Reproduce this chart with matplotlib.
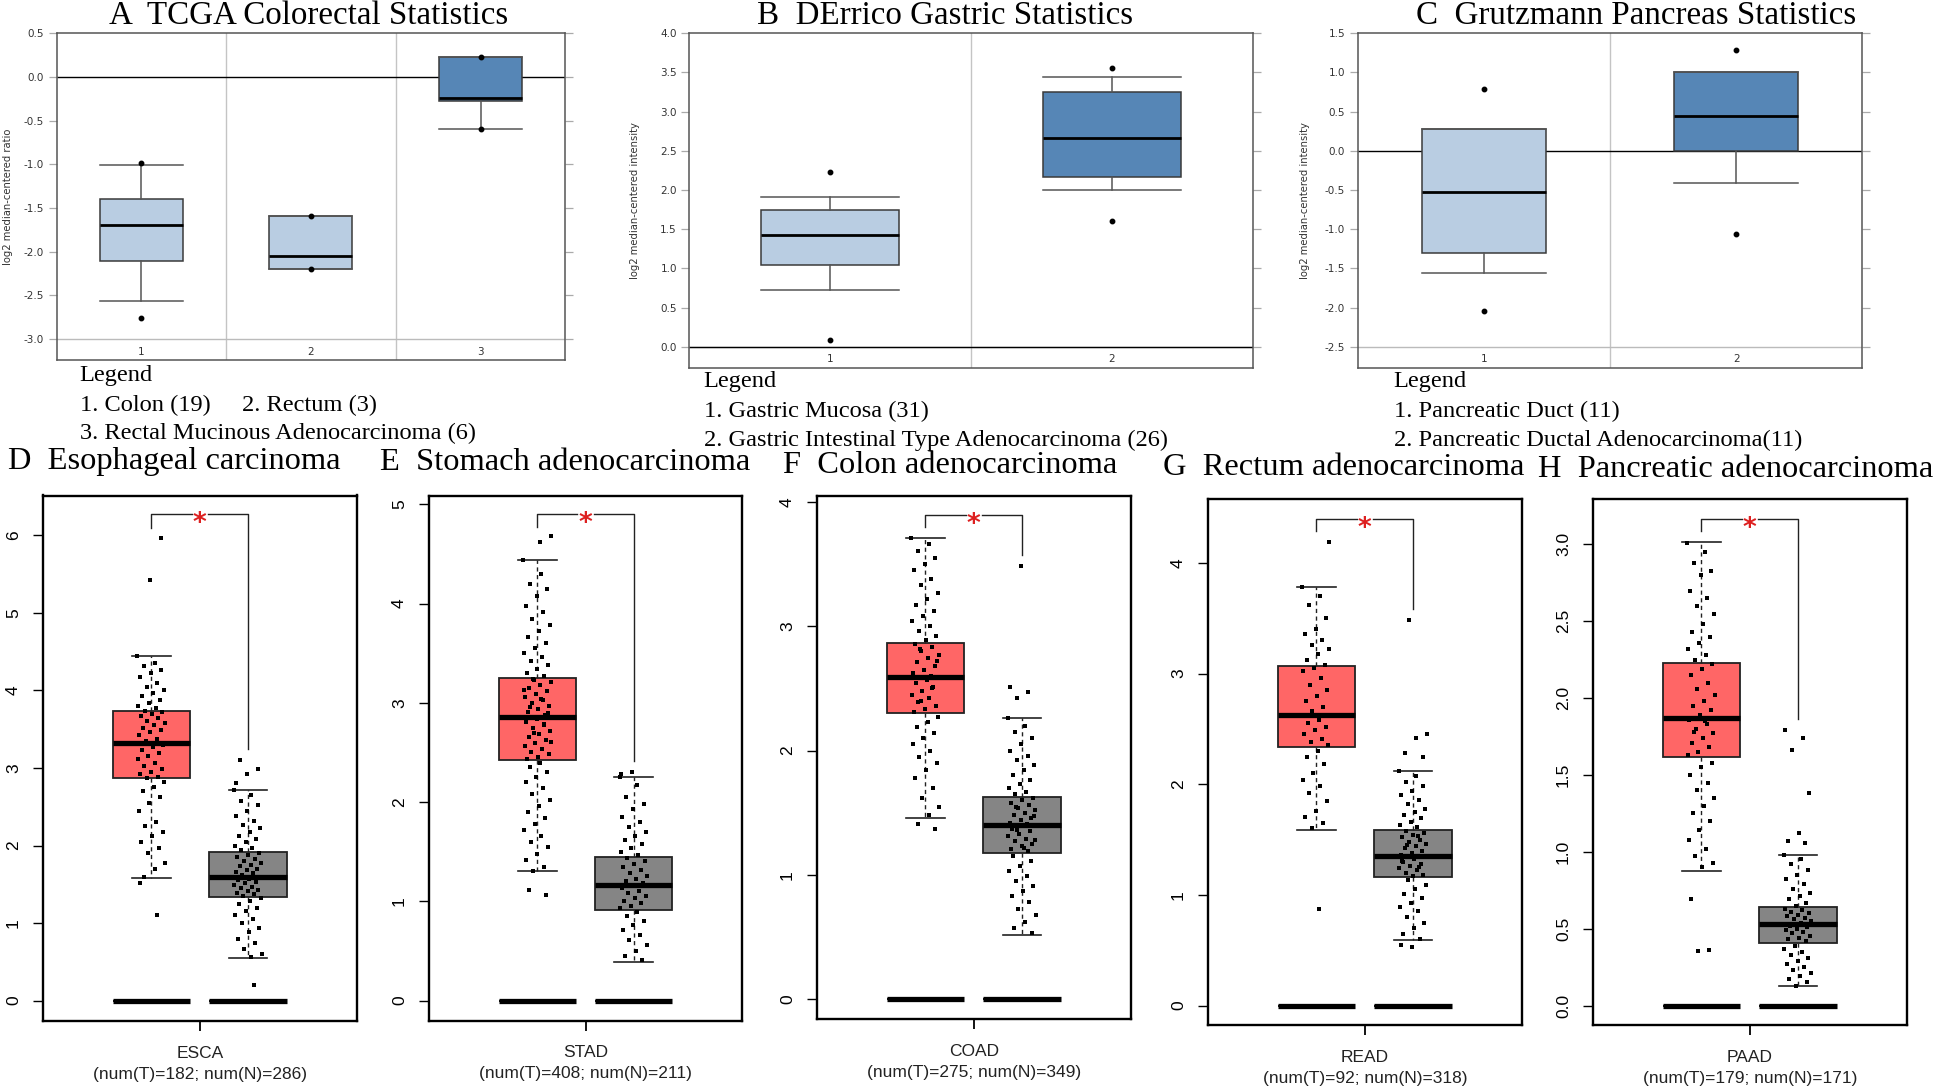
import matplotlib
matplotlib.use("Agg")
import matplotlib.pyplot as plt
import numpy as np

W, H = 1945, 1091
SERIF = ["Liberation Serif", "DejaVu Serif"]
SANS = ["Liberation Sans", "DejaVu Sans"]

# ---------------- Top panels (Oncomine) data ----------------
# stats per box: median, q1, q3, whisker low, whisker high
A_title = "A  TCGA Colorectal Statistics"
A_ylabel = "log2 median-centered ratio"
A_ticks = [0.5, 0.0, -0.5, -1.0, -1.5, -2.0, -2.5, -3.0]
A_med = [-1.70, -2.05, -0.245]
A_q1 = [-2.11, -2.20, -0.27]
A_q3 = [-1.40, -1.59, 0.233]
A_lo = [-2.565, -2.20, -0.60]
A_hi = [-1.01, -1.59, 0.233]
A_fliers = [[-0.98, -2.76], [-1.59, -2.20], [0.233, -0.60]]
A_legend = ["1. Colon (19)", "2. Rectum (3)", "3. Rectal Mucinous Adenocarcinoma (6)"]

B_title = "B  DErrico Gastric Statistics"
B_ylabel = "log2 median-centered intensity"
B_ticks = [4.0, 3.5, 3.0, 2.5, 2.0, 1.5, 1.0, 0.5, 0.0]
B_med = [1.42, 2.67]
B_q1 = [1.04, 2.16]
B_q3 = [1.75, 3.255]
B_lo = [0.72, 2.00]
B_hi = [1.915, 3.447]
B_fliers = [[2.23, 0.085], [3.553, 1.604]]
B_legend = ["1. Gastric Mucosa (31)", "2. Gastric Intestinal Type Adenocarcinoma (26)"]

C_title = "C  Grutzmann Pancreas Statistics"
C_ylabel = "log2 median-centered intensity"
C_ticks = [1.5, 1.0, 0.5, 0.0, -0.5, -1.0, -1.5, -2.0, -2.5]
C_med = [-0.523, 0.439]
C_q1 = [-1.302, 0.0]
C_q3 = [0.281, 1.009]
C_lo = [-1.562, -0.409]
C_hi = [0.281, 1.009]
C_fliers = [[0.784, -2.045], [1.287, -1.057]]
C_legend = ["1. Pancreatic Duct (11)", "2. Pancreatic Ductal Adenocarcinoma(11)"]

# ---------------- Bottom panels (GEPIA) data ----------------
D_title = "D  Esophageal carcinoma"
D_code, D_num = "ESCA", "(num(T)=182; num(N)=286)"
D_ticks = [0, 1, 2, 3, 4, 5, 6]
D_T_stats = [3.32, 2.87, 3.74, 1.58, 4.44]
D_N_stats = [1.60, 1.34, 1.91, 0.55, 2.72]
D_T = [4.44, 4.35, 4.31, 4.27, 4.22, 4.18, 4.10, 4.05, 4.01, 3.97, 3.93, 3.88, 3.84, 3.80, 3.78,
       3.74, 3.72, 3.70, 3.67, 3.64, 3.61, 3.58, 3.55, 3.52, 3.49, 3.46, 3.42, 3.38, 3.35,
       3.30, 3.27, 3.23, 3.19, 3.15, 3.11, 3.07, 3.03, 2.99, 2.95, 2.92, 2.89, 2.87,
       2.82, 2.76, 2.70, 2.62, 2.55, 2.45, 2.30, 2.25, 2.18, 2.12, 2.05, 1.97, 1.90, 1.78, 1.70, 1.60,
       5.97, 5.43, 1.51, 1.11]
D_N = [2.72, 2.65, 2.58, 2.52, 2.45, 2.38, 2.32, 2.27, 2.22, 2.17, 2.12, 2.08, 2.04, 2.00, 1.97, 1.94,
       1.90, 1.88, 1.85, 1.83, 1.80, 1.78, 1.75, 1.73, 1.70, 1.68, 1.66, 1.64, 1.62,
       1.59, 1.57, 1.55, 1.53, 1.51, 1.49, 1.47, 1.45, 1.43, 1.41, 1.39, 1.37, 1.35,
       1.32, 1.28, 1.24, 1.20, 1.15, 1.10, 1.05, 1.00, 0.94, 0.88, 0.80, 0.74, 0.67, 0.60, 0.56,
       3.10, 2.99, 2.92, 2.80, 0.20]
D_bracket = [6.27, 6.10, 3.25]
D_ylim = [-0.265, 6.515]

E_title = "E  Stomach adenocarcinoma"
E_code, E_num = "STAD", "(num(T)=408; num(N)=211)"
E_ticks = [0, 1, 2, 3, 4, 5]
E_T_stats = [2.86, 2.42, 3.25, 1.31, 4.44]
E_N_stats = [1.16, 0.91, 1.45, 0.39, 2.25]
E_T = [4.44, 4.30, 4.20, 4.15, 4.08, 3.98, 3.92, 3.85, 3.78, 3.72, 3.66, 3.60, 3.55, 3.50, 3.46, 3.42, 3.38, 3.34, 3.30, 3.27,
       3.24, 3.21, 3.18, 3.15, 3.12, 3.09, 3.06, 3.03, 3.00, 2.97, 2.94, 2.91, 2.88, 3.23, 3.13, 3.04, 2.96, 2.90,
       2.84, 2.81, 2.78, 2.75, 2.72, 2.69, 2.66, 2.63, 2.60, 2.57, 2.54, 2.51, 2.48, 2.45, 2.43, 2.79, 2.70, 2.61,
       2.39, 2.35, 2.30, 2.25, 2.20, 2.14, 2.08, 2.02, 1.96, 1.90, 1.84, 1.78, 1.72, 1.66, 1.60, 1.55, 1.48, 1.42, 1.35, 1.31,
       4.68, 4.62, 1.11, 1.06]
E_N = [2.25, 2.17, 2.05, 1.98, 1.93, 1.85, 1.80, 1.75, 1.70, 1.66, 1.62, 1.58, 1.54, 1.50, 1.47,
       1.44, 1.41, 1.38, 1.35, 1.32, 1.29, 1.26, 1.23, 1.20, 1.18,
       1.15, 1.13, 1.10, 1.08, 1.05, 1.03, 1.00, 0.98, 0.95, 0.93,
       0.89, 0.85, 0.80, 0.76, 0.71, 0.66, 0.61, 0.56, 0.50, 0.45, 0.41,
       2.30, 2.28]
E_bracket = [4.90, 4.77, 2.41]
E_ylim = [-0.203, 5.09]

F_title = "F  Colon adenocarcinoma"
F_code, F_num = "COAD", "(num(T)=275; num(N)=349)"
F_ticks = [0, 1, 2, 3, 4]
F_T_stats = [2.59, 2.30, 2.865, 1.455, 3.71]
F_N_stats = [1.40, 1.18, 1.63, 0.52, 2.26]
F_T = [3.71, 3.66, 3.60, 3.55, 3.50, 3.45, 3.38, 3.33, 3.27, 3.22, 3.17, 3.12, 3.08, 3.04, 3.00, 2.96, 2.92, 2.89,
       2.86, 2.83, 2.80, 2.77, 2.74, 2.71, 2.68, 2.65, 2.62, 2.60, 2.82, 2.72,
       2.57, 2.54, 2.51, 2.48, 2.45, 2.42, 2.39, 2.36, 2.33, 2.31, 2.50, 2.40,
       2.27, 2.23, 2.19, 2.14, 2.10, 2.05, 2.00, 1.95, 1.90, 1.84, 1.78, 1.70, 1.62, 1.55, 1.48,
       1.41, 1.37]
F_N = [2.26, 2.20, 2.15, 2.10, 2.05, 2.00, 1.96, 1.92, 1.88, 1.84, 1.80, 1.76, 1.73, 1.70, 1.67, 1.65,
       1.62, 1.60, 1.58, 1.56, 1.54, 1.52, 1.50, 1.48, 1.46, 1.44, 1.42, 1.41, 1.55, 1.47,
       1.39, 1.37, 1.35, 1.33, 1.31, 1.29, 1.27, 1.25, 1.23, 1.21, 1.19, 1.36, 1.28, 1.22,
       1.15, 1.11, 1.07, 1.03, 0.99, 0.95, 0.91, 0.87, 0.83, 0.78, 0.73, 0.68, 0.62, 0.57, 0.53,
       3.48, 2.51, 2.47, 2.42]
F_bracket = [3.89, 3.80, 3.57]
F_ylim = [-0.158, 4.05]

G_title = "G  Rectum adenocarcinoma"
G_code, G_num = "READ", "(num(T)=92; num(N)=318)"
G_ticks = [0, 1, 2, 3, 4]
G_T_stats = [2.627, 2.334, 3.065, 1.584, 3.785]
G_N_stats = [1.35, 1.165, 1.59, 0.59, 2.12]
G_T = [3.78, 3.70, 3.62, 3.50, 3.40, 3.36, 3.30, 3.26, 3.22, 3.18, 3.12, 3.08,
       3.05, 3.02, 2.96, 2.90, 2.85, 2.80, 2.75, 2.70, 2.66,
       2.62, 2.58, 2.55, 2.52, 2.49, 2.45, 2.41, 2.38, 2.35,
       2.30, 2.25, 2.18, 2.10, 2.04, 1.98, 1.92, 1.85, 1.76, 1.70, 1.65, 1.60,
       4.19, 0.87]
G_N = [2.12, 2.07, 2.02, 1.98, 1.94, 1.90, 1.86, 1.82, 1.78, 1.75, 1.72, 1.69, 1.66, 1.63, 1.61,
       1.58, 1.56, 1.54, 1.52, 1.50, 1.48, 1.46, 1.44, 1.42, 1.40, 1.38, 1.36, 1.53, 1.45,
       1.34, 1.32, 1.30, 1.28, 1.26, 1.24, 1.22, 1.20, 1.18, 1.17, 1.31, 1.25,
       1.13, 1.09, 1.05, 1.01, 0.97, 0.93, 0.89, 0.85, 0.80, 0.75, 0.70, 0.65, 0.60,
       3.48, 2.45, 2.42, 2.28, 2.25, 0.53, 0.55]
G_bracket = [4.40, 4.29, 3.58]
G_ylim = [-0.178, 4.575]

H_title = "H  Pancreatic adenocarcinoma"
H_code, H_num = "PAAD", "(num(T)=179; num(N)=171)"
H_ticks = [0.0, 0.5, 1.0, 1.5, 2.0, 2.5, 3.0]
H_T_stats = [1.87, 1.614, 2.228, 0.874, 3.014]
H_N_stats = [0.529, 0.406, 0.641, 0.128, 0.98]
H_T = [3.01, 2.95, 2.88, 2.83, 2.80, 2.70, 2.65, 2.60, 2.55, 2.48, 2.43, 2.40, 2.36, 2.32, 2.28, 2.25,
       2.22, 2.19, 2.15, 2.10, 2.06, 2.02, 1.98, 1.95, 1.92, 1.89,
       1.86, 1.83, 1.80, 1.77, 1.74, 1.71, 1.68, 1.65, 1.63, 1.85, 1.78,
       1.58, 1.55, 1.50, 1.45, 1.40, 1.35, 1.30, 1.25, 1.20, 1.14, 1.08, 1.02, 0.97, 0.93, 0.90,
       0.69, 0.36, 0.355]
H_N = [0.98, 0.95, 0.92, 0.88, 0.85, 0.82, 0.79, 0.76, 0.73, 0.71, 0.69, 0.67, 0.65,
       0.63, 0.62, 0.61, 0.60, 0.59, 0.58, 0.57, 0.56, 0.55, 0.54,
       0.52, 0.51, 0.50, 0.49, 0.48, 0.47, 0.45, 0.44, 0.43, 0.42,
       0.39, 0.37, 0.35, 0.33, 0.31, 0.29, 0.27, 0.25, 0.23, 0.21, 0.19, 0.17, 0.15, 0.13,
       1.79, 1.74, 1.66, 1.38, 1.12, 1.07, 1.06]
H_bracket = [3.166, 3.086, 1.862]
H_ylim = [-0.128, 3.294]

baseline_stats = [0.0, 0.0, 0.0, 0.0, 0.0]

# ---------------- Figure ----------------
fig = plt.figure(figsize=(W / 100, H / 100), dpi=100)


def rect(x0, y0, x1, y1):
    return [x0 / W, 1 - y1 / H, (x1 - x0) / W, (y1 - y0) / H]


def ftext(x, y, s, **kw):
    fig.text(x / W, 1 - y / H, s, **kw)


LIGHT = "#b9cde2"
DARK = "#5686b6"


def onco_panel(r, title, title_cx, ylabel, ticks, med, q1, q3, lo, hi, fliers,
               colors, bottom_val, legend, legend_pos, ylab_x):
    ax = fig.add_axes(rect(*r))
    n = len(med)
    stats = []
    for i in range(n):
        stats.append(dict(med=med[i], q1=q1[i], q3=q3[i], whislo=lo[i],
                          whishi=hi[i], fliers=fliers[i]))
    pos = [i + 0.5 for i in range(n)]
    bp = ax.bxp(stats, positions=pos, widths=0.49, capwidths=0.49,
                patch_artist=True, showfliers=True,
                boxprops=dict(edgecolor="#3a3a3a", linewidth=1.1),
                medianprops=dict(color="black", linewidth=2.0),
                whiskerprops=dict(color="#555555", linewidth=1.1),
                capprops=dict(color="#555555", linewidth=1.1),
                flierprops=dict(marker="o", markersize=3.2, markerfacecolor="black",
                                markeredgecolor="black"))
    for p, c in zip(bp["boxes"], colors):
        p.set_facecolor(c)
    for b in range(1, n):
        ax.axvline(b, color="#c4c4c4", lw=1.0, zorder=0)
    ax.axhline(0, color="black", lw=1.0, zorder=1.5)
    ax.axhline(min(ticks), color="#bbbbbb", lw=1.0, zorder=0)
    ax.set_xlim(0, n)
    ax.set_ylim(bottom_val, max(ticks))
    ax.set_yticks(ticks)
    ax.set_yticklabels([f"{t:.1f}" for t in ticks], fontsize=7.5, color="#333333",
                       family="DejaVu Sans")
    ax.tick_params(axis="y", which="both", direction="out", length=6, width=0.9,
                   color="#aaaaaa", pad=3, right=True)
    ax.set_xticks([])
    for i in range(n):
        ax.text(pos[i], 0.026, str(i + 1), transform=ax.get_xaxis_transform(),
                ha="center", va="center", fontsize=7.5, color="#333333")
    for s in ax.spines.values():
        s.set_color("#555555")
        s.set_linewidth(1.1)
    cy = (r[1] + r[3]) / 2
    ftext(ylab_x, cy, ylabel, rotation=90, ha="center", va="center", fontsize=7.2,
          color="#333333")
    ftext(title_cx, 16, title, ha="center", va="center", fontsize=23.8, family=SERIF)
    for (s, x, y) in zip(legend, legend_pos[0], legend_pos[1]):
        ftext(x, y, s, ha="left", va="center", fontsize=17.6, family=SERIF)
    return ax


onco_panel((56.6, 33.3, 565.3, 360.0), A_title, 309, A_ylabel, A_ticks, A_med, A_q1,
           A_q3, A_lo, A_hi, A_fliers, [LIGHT, LIGHT, DARK], -3.24,
           ["Legend"] + A_legend, ([79.5, 79.5, 242.3, 79.5], [376, 405, 405, 433.3]), 8)
onco_panel((689.4, 33.3, 1252.7, 367.7), B_title, 945, B_ylabel, B_ticks, B_med, B_q1,
           B_q3, B_lo, B_hi, B_fliers, [LIGHT, DARK], -0.268,
           ["Legend"] + B_legend, ([703.7, 703.7, 703.7], [381.7, 411, 440]), 635)
onco_panel((1357.6, 33.3, 1862.3, 367.7), C_title, 1636, C_ylabel, C_ticks, C_med, C_q1,
           C_q3, C_lo, C_hi, C_fliers, [LIGHT, DARK], -2.768,
           ["Legend"] + C_legend, ([1393.7, 1393.7, 1393.7], [381.7, 411, 440]), 1305)

RED = "#ff6666"
GRAY = "#858585"
POS_T, POS_N, BW = 0.345, 0.653, 0.247


def jitter_x(n, center):
    return [center + ((i * 0.6180339887) % 1 - 0.5) * 0.09 for i in range(n)]


def gepia_panel(r, title, title_x, title_y, code, num, ticks, tstats, nstats, tvals,
                nvals, bracket, ylim, tick_fmt):
    ax = fig.add_axes(rect(*r))
    st = []
    for s in (tstats, nstats):
        st.append(dict(med=s[0], q1=s[1], q3=s[2], whislo=s[3], whishi=s[4], fliers=[]))
    bp = ax.bxp(st, positions=[POS_T, POS_N], widths=BW, capwidths=BW / 2,
                patch_artist=True, showfliers=False,
                boxprops=dict(edgecolor="#222222", linewidth=1.3),
                medianprops=dict(color="black", linewidth=3.8),
                whiskerprops=dict(color="#222222", linewidth=1.0, linestyle=(0, (3, 2.5))),
                capprops=dict(color="#222222", linewidth=1.2))
    bp["boxes"][0].set_facecolor(RED)
    bp["boxes"][1].set_facecolor(GRAY)
    z = dict(med=baseline_stats[0], q1=baseline_stats[1], q3=baseline_stats[2],
             whislo=baseline_stats[3], whishi=baseline_stats[4], fliers=[])
    ax.bxp([z, z], positions=[POS_T, POS_N], widths=BW, capwidths=BW / 2,
           patch_artist=True, showfliers=False,
           boxprops=dict(edgecolor="black", linewidth=1.3),
           medianprops=dict(color="black", linewidth=3.8),
           whiskerprops=dict(color="black", linewidth=1.0),
           capprops=dict(color="black", linewidth=1.0))
    ax.scatter(jitter_x(len(tvals), POS_T), tvals, s=8, color="black", lw=0,
               marker="s", zorder=5)
    ax.scatter(jitter_x(len(nvals), POS_N), nvals, s=8, color="black", lw=0,
               marker="s", zorder=5)
    top, lleg, rleg = bracket
    gap = 0.026
    mid = (POS_T + POS_N) / 2
    ax.plot([POS_T, POS_T, mid - gap], [lleg, top, top], color="#222222", lw=1.0, zorder=4)
    ax.plot([mid + gap, POS_N, POS_N], [top, top, rleg], color="#222222", lw=1.0, zorder=4)
    ax.text(mid, top, "*", ha="center", va="center_baseline", color="#dd2020",
            fontsize=19, fontweight="bold", family="DejaVu Sans", zorder=6,
            transform=ax.transData + matplotlib.transforms.ScaledTranslation(0, -5 / 72, fig.dpi_scale_trans))
    ax.set_xlim(0, 1)
    ax.set_ylim(*ylim)
    ax.set_yticks(ticks)
    ax.set_yticklabels([tick_fmt.format(t) for t in ticks], rotation=90, va="center",
                       fontsize=12.5, family=SANS)
    ax.tick_params(axis="y", direction="out", length=7, width=1.0, pad=9)
    ax.set_xticks([0.5])
    ax.set_xticklabels([""])
    ax.tick_params(axis="x", direction="out", length=7, width=1.3)
    for s in ax.spines.values():
        s.set_linewidth(1.7)
        s.set_color("black")
    cx = (r[0] + r[2]) / 2
    ftext(cx, r[3] + 32, code, ha="center", va="center", fontsize=12.5, family=SANS,
          color="#222222")
    ftext(cx, r[3] + 53, num, ha="center", va="center", fontsize=12.5, family=SANS,
          color="#222222")
    ftext(title_x, title_y, title, ha="left", va="center", fontsize=23.4, family=SERIF)
    return ax


gepia_panel((43.3, 495.5, 356.7, 1021.1), D_title, 8, 461, D_code, D_num, D_ticks,
            D_T_stats, D_N_stats, D_T, D_N, D_bracket, D_ylim, "{:d}")
gepia_panel((429.3, 495.5, 742.3, 1020.7), E_title, 380, 463, E_code, E_num, E_ticks,
            E_T_stats, E_N_stats, E_T, E_N, E_bracket, E_ylim, "{:d}")
gepia_panel((817.3, 495.5, 1130.7, 1019.0), F_title, 783, 465.5, F_code, F_num, F_ticks,
            F_T_stats, F_N_stats, F_T, F_N, F_bracket, F_ylim, "{:d}")
gepia_panel((1208.3, 499.2, 1521.7, 1025.2), G_title, 1163, 467.5, G_code, G_num, G_ticks,
            G_T_stats, G_N_stats, G_T, G_N, G_bracket, G_ylim, "{:d}")
gepia_panel((1593.3, 499.2, 1906.7, 1025.2), H_title, 1538, 469.6, H_code, H_num, H_ticks,
            H_T_stats, H_N_stats, H_T, H_N, H_bracket, H_ylim, "{:.1f}")

fig.savefig("out.png", dpi=100)
